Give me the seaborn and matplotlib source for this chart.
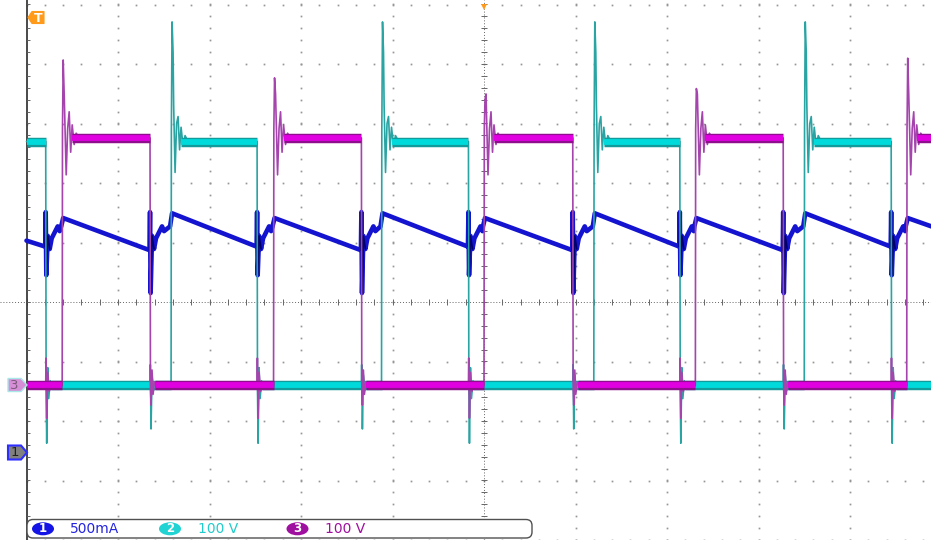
import numpy as np
import pandas as pd
import seaborn as sns
import matplotlib.pyplot as plt
from matplotlib.patches import FancyBboxPatch, Ellipse, Polygon

# switching edges, in horizontal divisions from the trigger point
ch2_rise = [-3.42, -1.12, 1.20, 3.50]
ch2_fall = [-4.79, -2.48, -0.17, 2.14, 4.45]
ch3_rise = [-4.61, -2.30, 0.00, 2.31, 4.62]
ch3_fall = [-3.65, -1.34, 0.97, 3.27]

# voltage shapes around an edge: (screen pixels after the edge, volts)
ch2_high, ch3_high = 410, 416
ch2_peaks = [611, 611, 611, 611]
ch3_peaks = [547, 517, 480, 499, 550]
ch2_ring = [(2, 560), (2.6, 470), (4, 358), (5.5, 440), (7, 452), (8.5, 396), (10, 434), (12, 402), (14, 420), (17, ch2_high)]
ch3_ring = [(2, 490), (4, 354), (5.5, 432), (7, 460), (8.5, 392), (10, 438), (12, 405), (14, 424), (17, ch3_high)]
ch2_fall_shape = [(0, ch2_high), (0.4, 0), (1, -97), (2, 30), (3, -22), (4.5, 8), (6, 0)]
ch3_fall_shape = [(0, ch3_high), (0.4, 0), (1, -33), (2, 26), (3, -15), (4.5, 6), (6, 0)]
# kick on the idle channel when the other one switches off
ch3_kick = [(0, 0), (0.3, 46), (1, -55), (2, 22), (3.5, -10), (5, 0)]
ch2_kick = [(0, 0), (0.3, 35), (1, -73), (2, 18), (3.5, -8), (5, 0)]

# channel 1 current (A)
i_start, i_end = 1.78, 1.87
i_before_ch2_fall, i_before_ch3_fall = 1.73, 1.70
i_dip_ch2_fall, i_dip_ch3_fall = 1.49, 1.34
i_spike = 2.02
i_recovery = [(2, 1.82), (4, 1.71), (6, 1.80), (9, 1.85), (12, 1.90), (14, 1.86)]
i_peak_ch2_rise, i_peak_ch3_rise = 2.01, 1.97

PX = 1 / 91.5          # one screen pixel in horizontal divisions
OFF1, SCALE1 = -2.529, 0.5    # ch1 ground offset (div), A/div
OFF23, SCALE23 = -1.403, 100  # ch2/ch3 ground offset (div), V/div


def build(start, end, events):
    pts = [start]
    for t0, shape in sorted(events, key=lambda e: e[0]):
        pts += [(t0 + dx * PX, v) for dx, v in shape]
    pts.append(end)
    return pd.DataFrame(pts, columns=['t', 'v'])


def rise(peak, ring):
    return [(0, 0), (0.3, 430), (1, peak)] + ring


ch2 = build((-5, ch2_high), (5, 0),
            [(t, rise(p, ch2_ring)) for t, p in zip(ch2_rise, ch2_peaks)]
            + [(t, ch2_fall_shape) for t in ch2_fall] + [(t, ch2_kick) for t in ch3_fall])
ch3 = build((-5, 0), (5, ch3_high),
            [(t, rise(p, ch3_ring)) for t, p in zip(ch3_rise, ch3_peaks)]
            + [(t, ch3_fall_shape) for t in ch3_fall] + [(t, ch3_kick) for t in ch2_fall])

falls1 = [(t, [(-0.5, i_before_ch2_fall), (0, i_spike), (0.6, i_dip_ch2_fall)] + i_recovery) for t in ch2_fall]
falls1 += [(t, [(-0.5, i_before_ch3_fall), (0, i_spike), (0.6, i_dip_ch3_fall)] + i_recovery) for t in ch3_fall]
rises1 = [(t, [(-1, 1.90), (1, i_peak_ch2_rise)]) for t in ch2_rise]
rises1 += [(t, [(-1, 1.90), (1, i_peak_ch3_rise)]) for t in ch3_rise]
ch1 = build((-5, i_start), (5, i_end), falls1 + rises1)

ch1['y'] = OFF1 + ch1['v'] / SCALE1
ch2['y'] = OFF23 + ch2['v'] / SCALE23
ch3['y'] = OFF23 + ch3['v'] / SCALE23

sns.set_style('white')
fig = plt.figure(figsize=(9.31, 5.4), dpi=100)
ax = fig.add_axes([0, 0, 1, 1])
ax.set_xlim(-484 / 91.5, (931 - 484) / 91.5)
ax.set_ylim(-238 / 59.5, 302 / 59.5)
ax.axis('off')

# graticule
grid_c = '#969696'
xm = np.arange(-5, 5.01, 0.2)
ym = np.arange(-4, 5.2, 0.2)
for k in range(-4, 6):
    if k != 0:
        ax.plot(xm, np.full_like(xm, k), ls='none', marker='s', ms=1.25, mew=0, color=grid_c, zorder=1)
        ax.plot(np.full_like(ym, k), ym, ls='none', marker='s', ms=1.25, mew=0, color=grid_c, zorder=1)
ax.axhline(0, color='#666666', lw=0.7, ls=(0, (1, 2)), zorder=1)
ax.axvline(0, color='#666666', lw=0.7, ls=(0, (1, 2)), zorder=1)
ax.plot(xm, np.zeros_like(xm), ls='none', marker='|', ms=4, mew=0.7, color='#666666', zorder=1)
ax.plot(np.zeros_like(ym), ym, ls='none', marker='_', ms=5, mew=0.7, color='#666666', zorder=1)
ax.axvline(-5, color='#3a3a3a', lw=1.3, zorder=2)
ax.plot(np.full_like(ym, -5), ym, ls='none', marker=1, ms=2.5, mew=0.7, color='#666666', zorder=2)

# channel 1 current
sns.lineplot(data=ch1, x='t', y='y', sort=False, estimator=None, ax=ax,
             color='#1414D0', lw=3.3, zorder=3)
for t0, shape in falls1:
    seg = shape[:5]
    ax.plot([t0 + dx * PX for dx, _ in seg], [OFF1 + v / SCALE1 for _, v in seg],
            color='#00006A', lw=1.2, zorder=3.2)


def bands(starts, ends, level, dark, light, z):
    y = OFF23 + level / SCALE23
    ax.hlines([y] * len(starts), starts, ends, color=dark, lw=6.8, zorder=z)
    ax.hlines([y] * len(starts), starts, ends, color=light, lw=4.2, zorder=z + 0.1)


sns.lineplot(data=ch2, x='t', y='y', sort=False, estimator=None, ax=ax,
             color='#2AA3A3', lw=1.2, zorder=4)
bands([-5] + [t + 10 * PX for t in ch2_rise], ch2_fall, ch2_high, '#139A9A', '#00DADA', 4.2)
bands([t + 5 * PX for t in ch2_fall], ch2_rise + [5], 0, '#139A9A', '#00DADA', 4.2)

sns.lineplot(data=ch3, x='t', y='y', sort=False, estimator=None, ax=ax,
             color='#A444AC', lw=1.2, zorder=5)
bands([t + 10 * PX for t in ch3_rise], ch3_fall + [5], ch3_high, '#8E0E8E', '#E000E0', 5.2)
bands([-5] + [t + 5 * PX for t in ch3_fall], ch3_rise, 0, '#8E0E8E', '#E000E0', 5.2)

# markers and channel readout, in screen pixels
deco = fig.add_axes([0, 0, 1, 1], facecolor='none')
deco.set_xlim(0, 931)
deco.set_ylim(540, 0)
deco.axis('off')

deco.add_patch(Polygon([(28, 17.5), (32, 11.5), (44, 11.5), (44, 23.5), (32, 23.5)], closed=True,
                       fc='#FF9A1A', ec='#FF9A1A', lw=0.8, joinstyle='round'))
deco.text(38.5, 18, 'T', ha='center', va='center', color='white', fontsize=9, fontweight='bold')
deco.plot(484, 7, marker='v', ms=5, color='#FF9A1A', mew=0)

deco.add_patch(Polygon([(8, 378.5), (21, 378.5), (27, 385), (21, 391.5), (8, 391.5)], closed=True,
                       fc='#D68ED6', ec='#A8E8E8', lw=1))
deco.text(14.5, 385.5, '3', ha='center', va='center', color='#7C5A7C', fontsize=9.5)
deco.add_patch(Polygon([(8, 445.5), (21, 445.5), (27, 452.5), (21, 459.5), (8, 459.5)], closed=True,
                       fc='#808080', ec='#2E2EFF', lw=1.5))
deco.text(14.5, 453, '1', ha='center', va='center', color='#202020', fontsize=9.5)

deco.add_patch(FancyBboxPatch((27, 519.5), 505, 18.5, boxstyle='round,pad=0,rounding_size=6',
                              fc='white', ec='#505050', lw=1, zorder=6))
labels = [('1', '500mA', '#1414E6', '#2424E0', 43, 70),
          ('2', '100 V', '#22D3D3', '#22CCCC', 170, 198),
          ('3', '100 V', '#A010A0', '#A0109F', 297.5, 325)]
for num, txt, fc, tc, ex, tx in labels:
    deco.add_patch(Ellipse((ex, 528.8), 22, 13, fc=fc, ec='none', zorder=7))
    deco.text(ex, 529, num, ha='center', va='center', color='white', fontsize=8.5,
              fontweight='bold', zorder=8)
    deco.text(tx, 529, txt, ha='left', va='center', color=tc, fontsize=10, zorder=8)

fig.savefig('out.png', dpi=100)
